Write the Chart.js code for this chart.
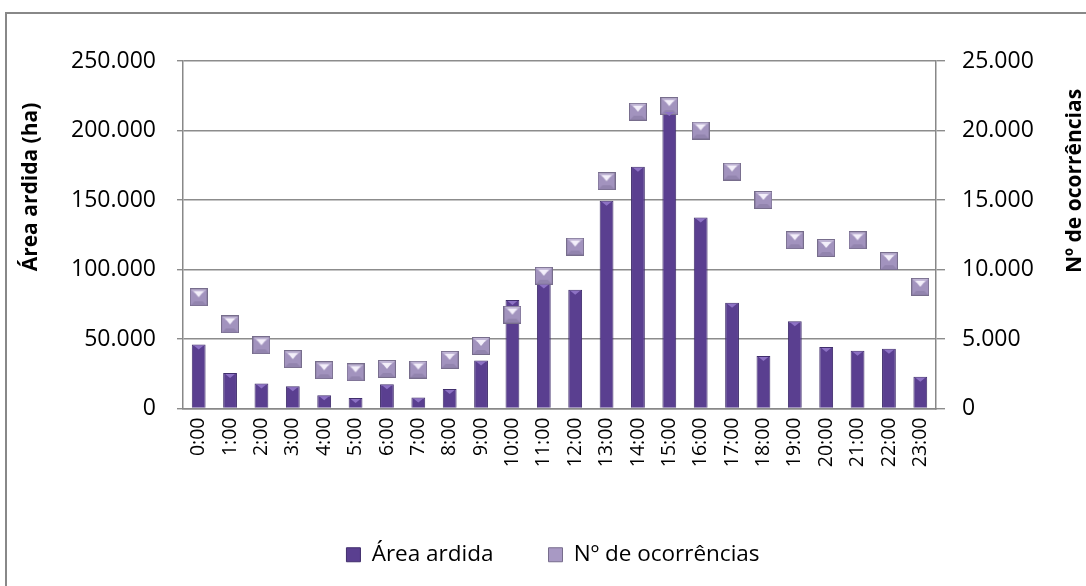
<!DOCTYPE html>
<html>
<head>
<meta charset="utf-8">
<script src="https://cdn.jsdelivr.net/npm/chart.js@4.4.1/dist/chart.umd.min.js"></script>
<style>
  html, body { margin: 0; padding: 0; background: #fff; }
  #wrap { width: 1086px; height: 586px; position: relative; }
</style>
</head>
<body>
<div id="wrap"><canvas id="horasChart" width="1086" height="586"></canvas></div>
<script>
// hours of the day
const hours = ['0:00', '1:00', '2:00', '3:00', '4:00', '5:00', '6:00', '7:00', '8:00', '9:00', '10:00', '11:00',
    '12:00', '13:00', '14:00', '15:00', '16:00', '17:00', '18:00', '19:00', '20:00', '21:00', '22:00', '23:00'];

// burnt area (ha), left axis
const areaArdida = [46000, 25500, 18000, 16000, 9500, 7500, 17500, 8000, 14000, 34500, 78000, 90000,
    85500, 149500, 174000, 214000, 137500, 76000, 37800, 62800, 44200, 41500, 43000, 22800];

// number of occurrences, right axis
const ocorrencias = [8000, 6050, 4550, 3550, 2750, 2600, 2850, 2800, 3500, 4500, 6750, 9550,
    11650, 16350, 21350, 21750, 20000, 17050, 15000, 12100, 11550, 12100, 10600, 8750];

const leftTicksMax = 250000;
const rightTicksMax = 25000;

const FONT = "'Open Sans', 'DejaVu Sans', sans-serif";

// thousands with a dot, like the Portuguese original
const fmt = v => String(v).replace(/\B(?=(\d{3})+(?!\d))/g, '.');

// bevelled square used as marker for the occurrences
function makeMarker() {
    const c = document.createElement('canvas');
    c.width = 18; c.height = 18;
    const g = c.getContext('2d');
    g.fillStyle = '#a293be';
    g.fillRect(0, 0, 18, 18);
    const tri = (pts, col) => {
        g.fillStyle = col;
        g.beginPath();
        g.moveTo(pts[0][0], pts[0][1]);
        pts.slice(1).forEach(p => g.lineTo(p[0], p[1]));
        g.closePath();
        g.fill();
    };
    tri([[1, 1], [17, 1], [13, 5], [5, 5]], '#c0b5d5');
    tri([[1, 17], [17, 17], [13, 13], [5, 13]], '#9284ae');
    tri([[4, 3], [14, 3], [9, 9]], '#f3effa');
    g.strokeStyle = '#776d8c';
    g.lineWidth = 1;
    g.strokeRect(0.5, 0.5, 17, 17);
    return c;
}

// frame, axis titles and the little highlight on top of the bars
const decorPlugin = {
    id: 'decor',
    afterLayout(chart) {
        // legend sits a little right of centre in the original
        chart.legend.left += 10;
        chart.legend.right += 10;
    },
    beforeDraw(chart) {
        const ctx = chart.ctx;
        ctx.save();
        ctx.strokeStyle = '#888888';
        ctx.lineWidth = 2;
        ctx.beginPath();
        ctx.moveTo(6, 586);
        ctx.lineTo(6, 13);
        ctx.lineTo(1086, 13);
        ctx.stroke();
        ctx.restore();
    },
    afterDatasetsDraw(chart) {
        const ctx = chart.ctx;
        const meta = chart.getDatasetMeta(0);
        ctx.save();
        ctx.fillStyle = '#8d72c4';
        meta.data.forEach(bar => {
            const w = bar.width;
            ctx.beginPath();
            ctx.moveTo(bar.x - w / 2 + 2, bar.y + 1);
            ctx.lineTo(bar.x + w / 2 - 2, bar.y + 1);
            ctx.lineTo(bar.x, bar.y + 5);
            ctx.closePath();
            ctx.fill();
        });
        ctx.restore();
    },
    afterDraw(chart) {
        const ctx = chart.ctx;
        ctx.save();
        ctx.fillStyle = '#000';
        ctx.font = 'bold 21px ' + FONT;
        ctx.textAlign = 'center';
        ctx.textBaseline = 'middle';
        ctx.translate(31, 187);
        ctx.rotate(-Math.PI / 2);
        ctx.fillText('Área ardida (ha)', 0, 0);
        ctx.restore();

        ctx.save();
        ctx.fillStyle = '#000';
        ctx.font = 'bold 21px ' + FONT;
        ctx.textAlign = 'center';
        ctx.textBaseline = 'middle';
        ctx.translate(1075, 181);
        ctx.rotate(-Math.PI / 2);
        ctx.fillText('Nº de ocorrências', 0, 0);
        ctx.restore();
    }
};

const ctx = document.getElementById('horasChart').getContext('2d');
new Chart(ctx, {
    data: {
        labels: hours,
        datasets: [{
            type: 'bar',
            label: 'Área ardida',
            data: areaArdida,
            yAxisID: 'y',
            backgroundColor: '#5a3f90',
            borderColor: '#402e6c',
            borderWidth: 1,
            categoryPercentage: 1,
            barPercentage: 0.44,
            order: 1
        }, {
            type: 'line',
            label: 'Nº de ocorrências',
            data: ocorrencias,
            yAxisID: 'y1',
            showLine: false,
            backgroundColor: '#a899c4',
            borderColor: '#776d8c',
            borderWidth: 1,
            pointStyle: makeMarker(),
            pointRadius: 9,
            order: 0
        }]
    },
    options: {
        responsive: false,
        animation: false,
        layout: { padding: { top: 61, left: 0, right: 0, bottom: 10 } },
        plugins: {
            tooltip: { enabled: false },
            legend: {
                position: 'bottom',
                labels: {
                    color: '#000',
                    font: { family: FONT, size: 22.5 },
                    boxWidth: 14,
                    boxHeight: 14,
                    padding: 55,
                    sort: (a, b) => a.datasetIndex - b.datasetIndex
                }
            }
        },
        scales: {
            x: {
                grid: { display: false, drawTicks: false },
                border: { display: true, color: '#888888', width: 1.5 },
                ticks: {
                    color: '#000',
                    font: { family: FONT, size: 19.5 },
                    minRotation: 90,
                    maxRotation: 90,
                    padding: 9,
                    autoSkip: false
                },
                afterFit: s => { s.height = 80; }
            },
            y: {
                position: 'left',
                min: 0,
                max: leftTicksMax,
                grid: { color: '#8c8c8c', lineWidth: 1.4, tickLength: 6 },
                border: { display: true, color: '#888888', width: 1.5 },
                ticks: {
                    stepSize: 50000,
                    color: '#000',
                    font: { family: FONT, size: 23 },
                    padding: 21,
                    callback: v => fmt(v)
                },
                afterFit: s => { s.width = 183; }
            },
            y1: {
                position: 'right',
                min: 0,
                max: rightTicksMax,
                grid: { drawOnChartArea: false, color: '#8c8c8c', lineWidth: 1.4, tickLength: 9 },
                border: { display: true, color: '#888888', width: 1.5 },
                ticks: {
                    stepSize: 5000,
                    color: '#000',
                    font: { family: FONT, size: 23 },
                    padding: 17,
                    callback: v => fmt(v)
                },
                afterFit: s => { s.width = 150; }
            }
        }
    },
    plugins: [decorPlugin]
});
</script>
</body>
</html>
